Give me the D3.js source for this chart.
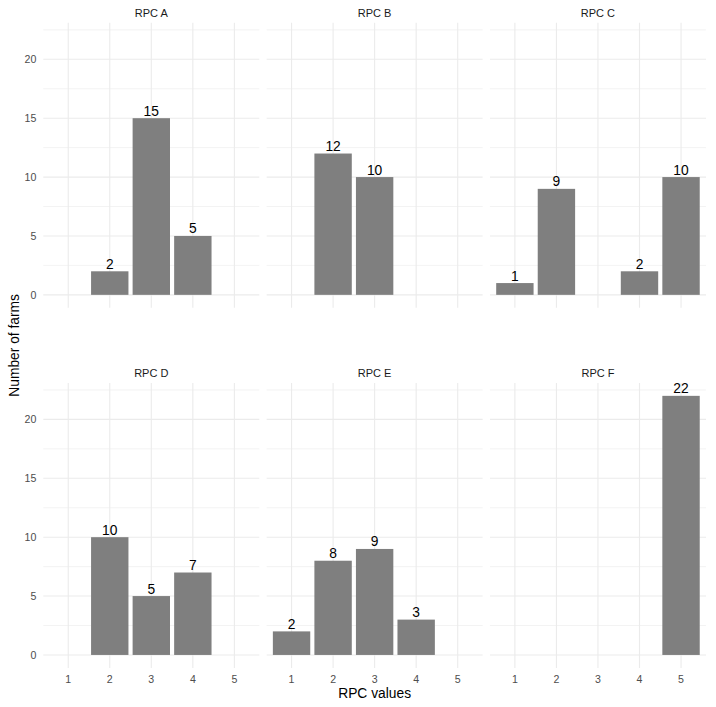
<!DOCTYPE html>
<html>
<head>
<meta charset="utf-8">
<script src="https://cdn.jsdelivr.net/npm/d3@7"></script>
<style>
  body { margin: 0; background: #fff; }
  text { font-family: "Liberation Sans", Arial, sans-serif; }
</style>
</head>
<body>
<div id="chart"></div>
<script>
// facet names and values
const panelNames = ["RPC A", "RPC B", "RPC C", "RPC D", "RPC E", "RPC F"];
const rpcValues = ["1", "2", "3", "4", "5"];
const countsA = [0, 2, 15, 5, 0];
const countsB = [0, 12, 10, 0, 0];
const countsC = [1, 9, 0, 2, 10];
const countsD = [0, 10, 5, 7, 0];
const countsE = [2, 8, 9, 3, 0];
const countsF = [0, 0, 0, 0, 22];
const yTicks = [0, 5, 10, 15, 20];
const yMinor = [2.5, 7.5, 12.5, 17.5, 22.5];

const allCounts = [countsA, countsB, countsC, countsD, countsE, countsF];

const width = 716, height = 707;
const panelW = 216, panelH = 285, gap = 7.33;
const left = 43.3;
const rowTops = [22.8, 382.9];

const svg = d3.select("#chart").append("svg")
    .attr("width", width)
    .attr("height", height);

const x = d3.scalePoint()
    .domain(rpcValues)
    .range([0, panelW])
    .padding(0.6);
const barW = x.step() * 0.9;

const y = d3.scaleLinear()
    .domain([-1.1, 23.1])
    .range([panelH, 0]);

panelNames.forEach((name, i) => {
    const col = i % 3, row = Math.floor(i / 3);
    const px = left + col * (panelW + gap);
    const py = rowTops[row];
    const g = svg.append("g").attr("transform", `translate(${px},${py})`);

    // grid
    g.selectAll(".minor").data(yMinor).enter().append("line")
        .attr("x1", 0).attr("x2", panelW)
        .attr("y1", d => y(d)).attr("y2", d => y(d))
        .attr("stroke", "#ebebeb").attr("stroke-width", 0.6);
    g.selectAll(".major").data(yTicks).enter().append("line")
        .attr("x1", 0).attr("x2", panelW)
        .attr("y1", d => y(d)).attr("y2", d => y(d))
        .attr("stroke", "#ebebeb").attr("stroke-width", 1.1);
    g.selectAll(".vmajor").data(rpcValues).enter().append("line")
        .attr("x1", d => x(d)).attr("x2", d => x(d))
        .attr("y1", 0).attr("y2", panelH)
        .attr("stroke", "#ebebeb").attr("stroke-width", 1.1);

    // strip title
    g.append("text")
        .attr("x", panelW / 2)
        .attr("y", -9.5)
        .attr("dy", "0.35em")
        .attr("text-anchor", "middle")
        .attr("font-size", 11)
        .attr("fill", "#1a1a1a")
        .text(name);

    const data = rpcValues.map((v, k) => ({ v: v, n: allCounts[i][k] }))
        .filter(d => d.n > 0);

    g.selectAll(".bar").data(data).enter().append("rect")
        .attr("x", d => x(d.v) - barW / 2)
        .attr("width", barW)
        .attr("y", d => y(d.n))
        .attr("height", d => y(0) - y(d.n))
        .attr("fill", "#7f7f7f");

    g.selectAll(".lbl").data(data).enter().append("text")
        .attr("x", d => x(d.v))
        .attr("y", d => y(d.n) - 2.5)
        .attr("text-anchor", "middle")
        .attr("font-size", 13.8)
        .attr("fill", "#000")
        .text(d => d.n);

    // y axis labels on left column
    if (col === 0) {
        g.selectAll(".yl").data(yTicks).enter().append("text")
            .attr("x", -7)
            .attr("y", d => y(d))
            .attr("dy", "0.35em")
            .attr("text-anchor", "end")
            .attr("font-size", 10.6)
            .attr("fill", "#4d4d4d")
            .text(d => d);
    }
    // x axis labels on bottom row
    if (row === 1) {
        g.selectAll(".xl").data(rpcValues).enter().append("text")
            .attr("x", d => x(d))
            .attr("y", panelH + 11)
            .attr("dy", "0.35em")
            .attr("text-anchor", "middle")
            .attr("font-size", 10.6)
            .attr("fill", "#4d4d4d")
            .text(d => d);
    }
});

svg.append("text")
    .attr("x", left + (3 * panelW + 2 * gap) / 2)
    .attr("y", 698)
    .attr("text-anchor", "middle")
    .attr("font-size", 13.8)
    .attr("fill", "#000")
    .text("RPC values");

svg.append("text")
    .attr("transform", `translate(18.5,${(rowTops[0] + rowTops[1] + panelH) / 2}) rotate(-90)`)
    .attr("text-anchor", "middle")
    .attr("font-size", 13.8)
    .attr("fill", "#000")
    .text("Number of farms");
</script>
</body>
</html>
